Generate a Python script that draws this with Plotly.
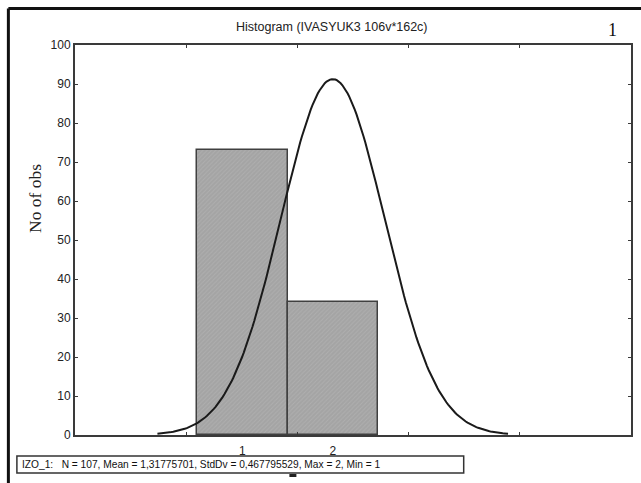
import numpy as np
import plotly.graph_objects as go

# ---- data ----
categories = [1, 2]
counts = [73, 34]
N = 107
MEAN = 1.31775701
STDDV = 0.467795529
y_ticks = [0, 10, 20, 30, 40, 50, 60, 70, 80, 90, 100]
title_text = "Histogram (IVASYUK3 106v*162c)"
stats_text = "IZO_1:   N = 107, Mean = 1,31775701, StdDv = 0,467795529, Max = 2, Min = 1"

# fitted normal curve (from the listed N, mean, sd; bin width 1)
xc = np.linspace(MEAN - 3.37 * STDDV, MEAN + 3.37 * STDDV, 200)
yc = N * 1.0 / (STDDV * np.sqrt(2 * np.pi)) * np.exp(-0.5 * ((xc - MEAN) / STDDV) ** 2)

AX = "#3a3a3a"
fig = go.Figure()
fig.add_trace(go.Bar(
    x=categories, y=counts, width=1, xaxis="x", yaxis="y",
    marker=dict(color="#a4a4a4", line=dict(color="#404040", width=1.5),
                pattern=dict(shape="/", fgcolor="#bababa", size=3, solidity=0.3)),
    hoverinfo="skip", showlegend=False))
fig.add_trace(go.Scatter(
    x=xc, y=yc, mode="lines", xaxis="x2", yaxis="y",
    line=dict(color="#1a1a1a", width=2), showlegend=False, hoverinfo="skip"))

fig.update_layout(
    width=641, height=483,
    margin=dict(l=75, r=10, t=45, b=48, autoexpand=False),
    paper_bgcolor="white", plot_bgcolor="white",
    font=dict(family="Liberation Sans, Arial", color="#222", size=12),
    xaxis=dict(range=[1 - 167 / 90.5, 1 + 388 / 90.5], automargin=False,
               tickvals=categories, ticktext=[str(c) for c in categories],
               ticks="outside", ticklen=5, tickcolor="rgba(0,0,0,0)",
               showline=False, showgrid=False, zeroline=False,
               tickfont=dict(size=12, family="Liberation Sans, Arial")),
    xaxis2=dict(range=[-1, 4], overlaying="x", side="bottom", anchor="y", automargin=False,
                tickvals=[0, 1, 2, 3], showticklabels=False,
                ticks="inside", ticklen=3, tickcolor=AX, mirror="ticks",
                showline=True, linecolor=AX, linewidth=2, showgrid=False, zeroline=False),
    yaxis=dict(range=[0, 100], tickvals=y_ticks, ticks="inside", ticklen=3, tickcolor=AX,
               mirror="ticks", showline=True, linecolor=AX, linewidth=2, automargin=False,
               showgrid=False, zeroline=False,
               tickfont=dict(size=12, family="Liberation Sans, Arial")),
    bargap=0,
)

# y-axis title (placed as in the reference, above the axis centre)
fig.add_annotation(text="No of obs", xref="paper", yref="paper", x=(35 - 75) / 555,
                   y=(435 - 198) / 390, showarrow=False, textangle=-90,
                   xanchor="center", yanchor="middle",
                   font=dict(family="Liberation Serif, Times New Roman", size=17.5, color="#222"))
# title
fig.add_annotation(text=title_text, xref="paper", yref="paper", x=(332 - 75) / 555,
                   y=(435 - 27) / 390, showarrow=False, xanchor="center", yanchor="middle",
                   font=dict(size=12.5, family="Liberation Sans, Arial", color="#222"))
# panel number
fig.add_annotation(text="1", xref="paper", yref="paper", x=(612 - 75) / 555,
                   y=(435 - 30) / 390, showarrow=False, xanchor="center", yanchor="middle",
                   font=dict(size=18, family="Liberation Serif, Times New Roman", color="#111"))
# stats box
fig.add_shape(type="rect", xref="paper", yref="paper",
              x0=(17 - 75) / 555, x1=(463 - 75) / 555,
              y0=(435 - 473) / 390, y1=(435 - 456) / 390,
              line=dict(color="#333", width=1.5), fillcolor="white")
fig.add_annotation(text=stats_text, xref="paper", yref="paper", x=(20 - 75) / 555,
                   y=(435 - 464.5) / 390, showarrow=False, xanchor="left", yanchor="middle",
                   font=dict(size=10.2, family="Liberation Sans, Arial", color="#111"))
fig.add_shape(type="rect", xref="paper", yref="paper",
              x0=(289 - 75) / 555, x1=(296 - 75) / 555,
              y0=(435 - 477) / 390, y1=(435 - 474) / 390,
              line=dict(width=0), fillcolor="#222")
# outer frame (top and left heavy lines)
fx = (8.5 - 75) / 555
fy = (435 - 8.5) / 390
fig.add_shape(type="line", xref="paper", yref="paper", x0=fx, x1=(645 - 75) / 555,
              y0=fy, y1=fy, line=dict(color="#111", width=3))
fig.add_shape(type="line", xref="paper", yref="paper", x0=fx, x1=fx,
              y0=fy, y1=(435 - 490) / 390, line=dict(color="#111", width=3))

fig.write_html("out.html", config={"displayModeBar": False},
               post_script="document.body.style.margin='0';document.body.style.overflow='hidden';")
